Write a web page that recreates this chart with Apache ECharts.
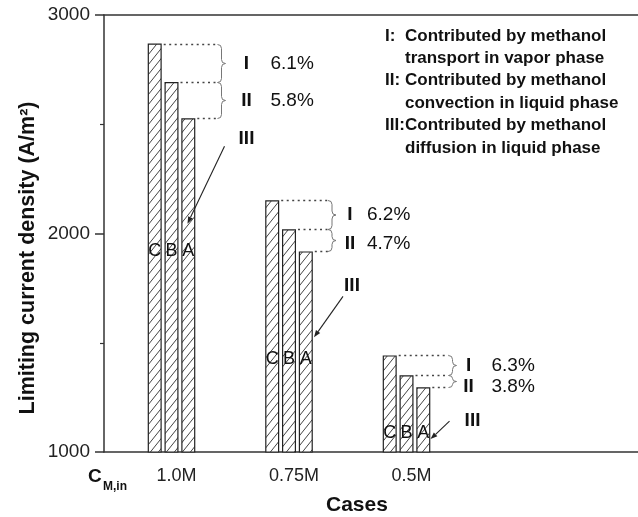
<!DOCTYPE html>
<html>
<head>
<meta charset="utf-8">
<script src="https://cdn.jsdelivr.net/npm/echarts@6/dist/echarts.min.js"></script>
<style>
  html, body { margin: 0; padding: 0; background: #fff; }
  #chart { width: 638px; height: 517px; }
</style>
</head>
<body>
<div id="chart"></div>
<script>
// Limiting current density for three inlet methanol concentrations
const categories = ['1.0M', '0.75M', '0.5M'];
const caseC = [2869, 2152, 1442];
const caseB = [2693, 2019, 1351];
const caseA = [2527, 1918, 1296];
const shareI = ['6.1%', '6.2%', '6.3%'];
const shareII = ['5.8%', '4.7%', '3.8%'];
const yTicks = [1000, 2000, 3000];
const barNames = ['C', 'B', 'A'];

// annotation layout (pixel offsets from the group centre, values on the y scale)
const braceDx = [46, 39, 42];
const romanDx = [75, 61, 62];
const pctDx = [99, 78, 85];
const iiNudge = [0, 3, 5];
const label3 = [[75, 2435], [63, 1763], [66, 1145]];
const arrowFrom = [[53, 2399], [54, 1712], [43, 1141]];
const arrowTo = [[16, 2045], [25, 1525], [24, 1059]];
const letterY = [1918, 1424, 1086];

const FONT = '"Liberation Sans", Arial, sans-serif';
const INK = '#111';
const BAR_W = 14;
const BAR_STEP = BAR_W * 1.2;

function hatchTile() {
  const w = 8, h = 10;
  const c = document.createElement('canvas');
  c.width = w; c.height = h;
  const g = c.getContext('2d');
  g.fillStyle = '#fff';
  g.fillRect(0, 0, w, h);
  g.strokeStyle = '#444';
  g.lineWidth = 1;
  g.beginPath();
  g.moveTo(-w, 2 * h); g.lineTo(2 * w, -h);
  g.moveTo(-2 * w, 2 * h); g.lineTo(w, -h);
  g.moveTo(0, 2 * h); g.lineTo(3 * w, -h);
  g.stroke();
  return c;
}
const hatch = { image: hatchTile(), repeat: 'repeat' };

function barSeries(name, values) {
  return {
    name: name,
    type: 'bar',
    data: values.map((v, i) => [i, v]),
    barWidth: BAR_W,
    barGap: '20%',
    itemStyle: { color: hatch, borderColor: '#222', borderWidth: 1.2 },
    silent: true
  };
}

function brace(x0, y1, y2) {
  const c = Math.min(4, (y2 - y1) / 4);
  const m = (y1 + y2) / 2;
  const xv = x0 + 4, xt = x0 + 8;
  return 'M' + x0 + ' ' + y1 +
    ' Q' + xv + ' ' + y1 + ' ' + xv + ' ' + (y1 + c) +
    ' L' + xv + ' ' + (m - c) +
    ' Q' + xv + ' ' + m + ' ' + xt + ' ' + m +
    ' Q' + xv + ' ' + m + ' ' + xv + ' ' + (m + c) +
    ' L' + xv + ' ' + (y2 - c) +
    ' Q' + xv + ' ' + y2 + ' ' + x0 + ' ' + y2;
}

function txt(x, y, text, font, align) {
  return {
    type: 'text', x: x, y: y,
    style: { text: text, font: font, fill: INK, align: align || 'center', verticalAlign: 'middle' }
  };
}

function renderNotes(params, api) {
  const i = api.value(0);
  const cx = api.coord([i, caseC[i]])[0];
  const yC = Math.round(api.coord([i, caseC[i]])[1]) + 0.5;
  const yB = Math.round(api.coord([i, caseB[i]])[1]) + 0.5;
  const yA = Math.round(api.coord([i, caseA[i]])[1]) + 0.5;
  const rights = [cx - BAR_STEP + BAR_W / 2, cx + BAR_W / 2, cx + BAR_STEP + BAR_W / 2];
  const bx = cx + braceDx[i];
  const kids = [];
  [yC, yB, yA].forEach((y, k) => {
    kids.push({
      type: 'line',
      shape: { x1: rights[k] + 2, y1: y, x2: bx, y2: y },
      style: { stroke: '#444', lineWidth: 1.3, lineDash: [2, 3.5], lineCap: 'butt' }
    });
  });
  kids.push({ type: 'path', shape: { pathData: brace(bx, yC, yB) }, style: { stroke: '#777', fill: null, lineWidth: 1 } });
  kids.push({ type: 'path', shape: { pathData: brace(bx, yB, yA) }, style: { stroke: '#777', fill: null, lineWidth: 1 } });
  const bold = 'bold 19px ' + FONT;
  const norm = '19px ' + FONT;
  kids.push(txt(cx + romanDx[i], (yC + yB) / 2, 'I', bold));
  kids.push(txt(cx + pctDx[i], (yC + yB) / 2, shareI[i], norm, 'left'));
  kids.push(txt(cx + romanDx[i], (yB + yA) / 2 + iiNudge[i], 'II', bold));
  kids.push(txt(cx + pctDx[i], (yB + yA) / 2 + iiNudge[i], shareII[i], norm, 'left'));
  kids.push(txt(cx + label3[i][0], api.coord([i, label3[i][1]])[1], 'III', bold));
  // arrow towards bar A
  const x1 = cx + arrowFrom[i][0], y1 = api.coord([i, arrowFrom[i][1]])[1];
  const x2 = cx + arrowTo[i][0], y2 = api.coord([i, arrowTo[i][1]])[1];
  const ang = Math.atan2(y2 - y1, x2 - x1);
  const L = 7, W = 2.6;
  const bx0 = x2 - L * Math.cos(ang), by0 = y2 - L * Math.sin(ang);
  kids.push({ type: 'line', shape: { x1: x1, y1: y1, x2: bx0, y2: by0 }, style: { stroke: '#222', lineWidth: 1.1 } });
  kids.push({
    type: 'polygon',
    shape: { points: [[x2, y2],
      [bx0 + W * Math.sin(ang), by0 - W * Math.cos(ang)],
      [bx0 - W * Math.sin(ang), by0 + W * Math.cos(ang)]] },
    style: { fill: '#222' }
  });
  // case letters on the bars
  const ly = api.coord([i, letterY[i]])[1];
  barNames.forEach((n, k) => {
    kids.push(txt(cx + (k - 1) * BAR_STEP, ly, n, '18px ' + FONT));
  });
  return { type: 'group', children: kids };
}

const xMin = -0.5745, xMax = 3.97;
const axisLineStyle = { color: '#333', width: 1.5 };

const option = {
  animation: false,
  backgroundColor: '#fff',
  grid: { left: 104, right: 0, top: 15, bottom: 65 },
  xAxis: [{
    type: 'value', min: xMin, max: xMax, position: 'bottom',
    axisLine: { show: true, onZero: false, lineStyle: axisLineStyle },
    axisTick: { show: false },
    splitLine: { show: false },
    axisLabel: {
      customValues: [0, 1, 2],
      formatter: v => categories[Math.round(v)],
      fontFamily: FONT, fontSize: 18, color: '#222', margin: 15,
      padding: [0, 0, 0, 10]
    }
  }, {
    type: 'value', min: xMin, max: xMax, position: 'top',
    axisLine: { show: true, onZero: false, lineStyle: axisLineStyle },
    axisTick: { show: false }, axisLabel: { show: false }, splitLine: { show: false }
  }],
  yAxis: {
    type: 'value', min: yTicks[0], max: yTicks[yTicks.length - 1], interval: 1000,
    axisLine: { show: true, onZero: false, lineStyle: axisLineStyle },
    axisTick: { show: true, inside: false, length: 9, lineStyle: axisLineStyle },
    minorTick: { show: true, splitNumber: 2, length: 4, lineStyle: { color: '#333', width: 1.2 } },
    splitLine: { show: false },
    axisLabel: { fontFamily: FONT, fontSize: 19, color: '#222', margin: 14, formatter: v => String(v) }
  },
  series: [
    barSeries('C', caseC),
    barSeries('B', caseB),
    barSeries('A', caseA),
    {
      type: 'custom',
      silent: true,
      z: 5,
      data: categories.map((c, i) => [i, caseC[i]]),
      renderItem: renderNotes
    }
  ],
  graphic: [
    { type: 'text', x: 28, y: 258, rotation: Math.PI / 2,
      style: { text: 'Limiting current density (A/m²)', font: 'bold 21.5px ' + FONT, fill: INK, align: 'center', verticalAlign: 'middle' } },
    { type: 'text', left: 385, top: 28, style: { text: 'I:', font: 'bold 17px ' + FONT, fill: INK } },
    { type: 'text', left: 405, top: 28, style: { text: 'Contributed by methanol', font: 'bold 17px ' + FONT, fill: INK } },
    { type: 'text', left: 405, top: 50, style: { text: 'transport in vapor phase', font: 'bold 17px ' + FONT, fill: INK } },
    { type: 'text', left: 385, top: 72, style: { text: 'II:', font: 'bold 17px ' + FONT, fill: INK } },
    { type: 'text', left: 405, top: 72, style: { text: 'Contributed by methanol', font: 'bold 17px ' + FONT, fill: INK } },
    { type: 'text', left: 405, top: 95, style: { text: 'convection in liquid phase', font: 'bold 17px ' + FONT, fill: INK } },
    { type: 'text', left: 385, top: 117, style: { text: 'III:', font: 'bold 17px ' + FONT, fill: INK } },
    { type: 'text', left: 405, top: 117, style: { text: 'Contributed by methanol', font: 'bold 17px ' + FONT, fill: INK } },
    { type: 'text', left: 405, top: 140, style: { text: 'diffusion in liquid phase', font: 'bold 17px ' + FONT, fill: INK } },
    { type: 'text', left: 88, top: 467, style: { text: 'C', font: 'bold 19px ' + FONT, fill: INK } },
    { type: 'text', left: 103, top: 481, style: { text: 'M,in', font: 'bold 12px ' + FONT, fill: INK } },
    { type: 'text', left: 326, top: 495, style: { text: 'Cases', font: 'bold 21px ' + FONT, fill: INK } }
  ]
};

const chart = echarts.init(document.getElementById('chart'), null, { renderer: 'canvas' });
chart.setOption(option);
</script>
</body>
</html>
